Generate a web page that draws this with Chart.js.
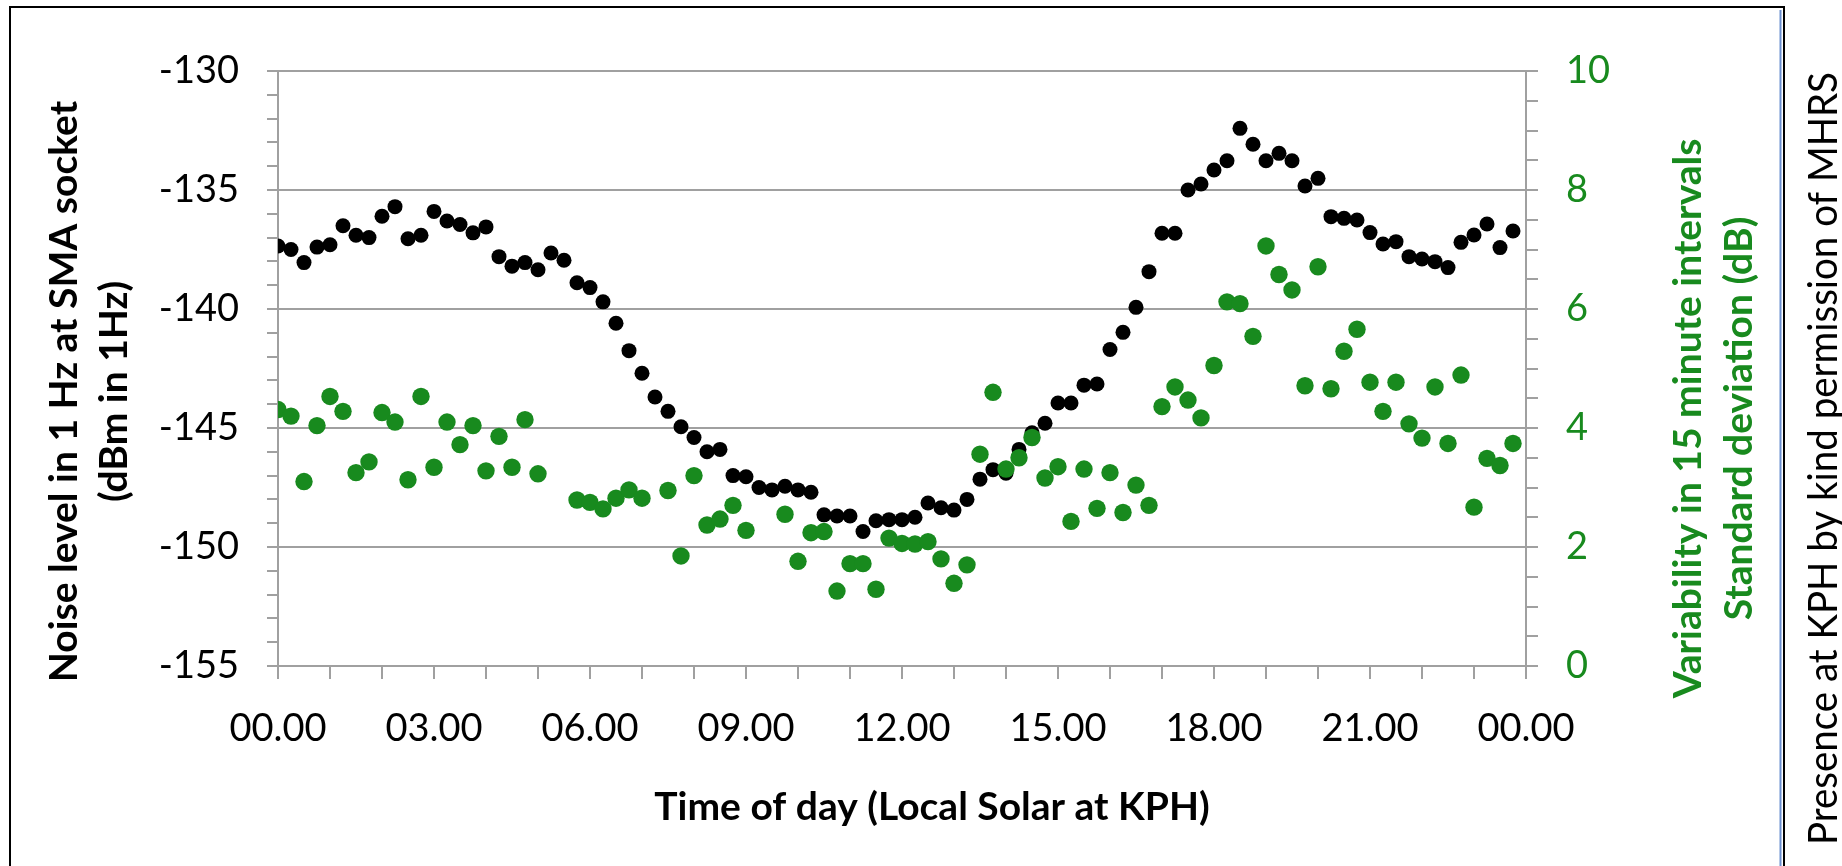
<!DOCTYPE html>
<html>
<head>
<meta charset="UTF-8">
<title>Noise level at KPH</title>
<script src="https://cdn.jsdelivr.net/npm/chart.js"></script>
<style>
  body { margin: 0; background: #fff; }
  #wrap { width: 1842px; height: 866px; }
</style>
</head>
<body>
<div id="wrap"><canvas id="myChart" width="1842" height="866"></canvas></div>

<script>
// time of day in hours, one reading every 15 minutes
const times = [
  0, 0.25, 0.5, 0.75, 1, 1.25, 1.5, 1.75,
  2, 2.25, 2.5, 2.75, 3, 3.25, 3.5, 3.75,
  4, 4.25, 4.5, 4.75, 5, 5.25, 5.5, 5.75,
  6, 6.25, 6.5, 6.75, 7, 7.25, 7.5, 7.75,
  8, 8.25, 8.5, 8.75, 9, 9.25, 9.5, 9.75,
  10, 10.25, 10.5, 10.75, 11, 11.25, 11.5, 11.75,
  12, 12.25, 12.5, 12.75, 13, 13.25, 13.5, 13.75,
  14, 14.25, 14.5, 14.75, 15, 15.25, 15.5, 15.75,
  16, 16.25, 16.5, 16.75, 17, 17.25, 17.5, 17.75,
  18, 18.25, 18.5, 18.75, 19, 19.25, 19.5, 19.75,
  20, 20.25, 20.5, 20.75, 21, 21.25, 21.5, 21.75,
  22, 22.25, 22.5, 22.75, 23, 23.25, 23.5, 23.75
];

// noise level in 1 Hz at SMA socket (dBm)
const noiseLevel = [
  -137.35, -137.5, -138.05, -137.4, -137.3, -136.5, -136.9, -137.0,
  -136.1, -135.7, -137.05, -136.9, -135.9, -136.3, -136.45, -136.8,
  -136.55, -137.8, -138.2, -138.05, -138.35, -137.65, -137.95, -138.9,
  -139.1, -139.7, -140.6, -141.75, -142.7, -143.7, -144.3, -144.95,
  -145.4, -146.0, -145.9, -147.0, -147.05, -147.5, -147.6, -147.45,
  -147.6, -147.7, -148.65, -148.7, -148.7, -149.35, -148.9, -148.85,
  -148.85, -148.75, -148.15, -148.35, -148.45, -148.0, -147.15, -146.75,
  -146.9, -145.9, -145.2, -144.8, -143.95, -143.95, -143.2, -143.15,
  -141.7, -140.98, -139.93, -138.43, -136.82, -136.82, -135.0, -134.75,
  -134.16, -133.77, -132.41, -133.08, -133.77, -133.46, -133.77, -134.83,
  -134.51, -136.12, -136.19, -136.26, -136.79, -137.27, -137.17, -137.8,
  -137.9, -138.01, -138.26, -137.2, -136.89, -136.43, -137.42, -136.72
];

// standard deviation over 15 minute intervals (dB), null where no point
const stdDev = [
  4.31, 4.2, 3.1, 4.04, 4.53, 4.28, 3.25, 3.43,
  4.26, 4.1, 3.13, 4.53, 3.34, 4.1, 3.72, 4.04,
  3.28, 3.86, 3.34, 4.14, 3.23, null, null, 2.79,
  2.75, 2.64, 2.82, 2.96, 2.82, null, 2.95, 1.85,
  3.2, 2.37, 2.47, 2.7, 2.28, null, null, 2.55,
  1.76, 2.24, 2.26, 1.26, 1.72, 1.72, 1.29, 2.15,
  2.06, 2.05, 2.09, 1.8, 1.39, 1.7, 3.56, 4.6,
  3.31, 3.5, 3.84, 3.16, 3.35, 2.43, 3.31, 2.65,
  3.25, 2.58, 3.04, 2.7, 4.36, 4.69, 4.47, 4.17,
  5.05, 6.12, 6.09, 5.54, 7.06, 6.58, 6.32, 4.71,
  6.71, 4.66, 5.29, 5.66, 4.77, 4.28, 4.77, 4.07,
  3.83, 4.69, 3.74, 4.89, 2.67, 3.49, 3.37, 3.74
];

const xTickLabels = ['00.00', '03.00', '06.00', '09.00', '12.00', '15.00', '18.00', '21.00', '00.00'];

const GRID = '#a0a0a0';
const GREEN = '#188a1e';
const FONT = 'Lato';

function toPoints(ys) {
  const pts = [];
  for (let i = 0; i < times.length; i++) {
    if (ys[i] !== null) pts.push({ x: times[i], y: ys[i] });
  }
  return pts;
}

// draws rotated (bottom-to-top) lines of text, squeezed to maxW if needed
function upText(ctx, lines, baselines, widths, cy, font, color) {
  ctx.save();
  ctx.font = font;
  ctx.fillStyle = color;
  ctx.textAlign = 'center';
  ctx.textBaseline = 'alphabetic';
  for (let i = 0; i < lines.length; i++) {
    ctx.save();
    ctx.translate(baselines[i], cy);
    ctx.rotate(-Math.PI / 2);
    ctx.fillText(lines[i], 0, 0, widths[i]);
    ctx.restore();
  }
  ctx.restore();
}

const decorations = {
  id: 'decorations',
  beforeDraw(chart) {
    const ctx = chart.ctx;
    ctx.save();
    ctx.fillStyle = '#fff';
    ctx.fillRect(0, 0, chart.width, chart.height);
    ctx.restore();
  },
  afterDraw(chart) {
    const ctx = chart.ctx;
    const a = chart.chartArea;
    const mid = (a.top + a.bottom) / 2;

    // outer frame
    ctx.save();
    ctx.strokeStyle = '#000';
    ctx.lineWidth = 2;
    ctx.beginPath();
    ctx.moveTo(10, chart.height);
    ctx.lineTo(10, 7);
    ctx.lineTo(1784, 7);
    ctx.lineTo(1784, chart.height);
    ctx.stroke();
    ctx.strokeStyle = '#6b8fd0';
    ctx.beginPath();
    ctx.moveTo(1780.5, 10);
    ctx.lineTo(1780.5, chart.height);
    ctx.stroke();
    ctx.restore();

    upText(ctx, ['Noise level in 1 Hz at SMA socket', '(dBm in 1Hz)'],
      [77, 127], [591, 232], mid + 23, 'bold 39px ' + FONT, '#000');
    upText(ctx, ['Variability in 15 minute intervals', 'Standard deviation (dB)'],
      [1701, 1752], [583, 423], mid + 50, 'bold 39px ' + FONT, GREEN);
    upText(ctx, ['Presence at KPH by kind permission of MHRS'],
      [1837], [773], mid + 90, '41px ' + FONT, '#000');

    ctx.save();
    ctx.font = 'bold 39px ' + FONT;
    ctx.fillStyle = '#000';
    ctx.textAlign = 'center';
    ctx.textBaseline = 'alphabetic';
    ctx.fillText('Time of day (Local Solar at KPH)', 932, 820, 570);
    ctx.restore();
  }
};

new Chart(document.getElementById('myChart'), {
  type: 'scatter',
  data: {
    datasets: [{
      label: 'Noise level',
      data: toPoints(noiseLevel),
      yAxisID: 'y',
      backgroundColor: '#000',
      borderWidth: 0,
      pointRadius: 7.5,
      order: 2
    }, {
      label: 'Standard deviation',
      data: toPoints(stdDev),
      yAxisID: 'y1',
      backgroundColor: GREEN,
      borderWidth: 0,
      pointRadius: 8.7,
      order: 1
    }]
  },
  options: {
    responsive: false,
    animation: false,
    devicePixelRatio: 1,
    layout: { padding: { top: 71, left: 0, right: 0, bottom: 0 } },
    plugins: {
      legend: { display: false },
      tooltip: { enabled: false }
    },
    scales: {
      x: {
        type: 'linear',
        min: 0,
        max: 24,
        afterFit(s) { s.height = 200; },
        grid: { drawOnChartArea: false, color: GRID, lineWidth: 2, tickLength: 13 },
        border: { color: GRID, width: 2 },
        ticks: {
          stepSize: 1,
          autoSkip: false,
          maxRotation: 0,
          padding: 27,
          color: '#000',
          font: { family: FONT, size: 38 },
          callback: v => (v % 3 === 0 ? xTickLabels[v / 3] : '')
        }
      },
      y: {
        position: 'left',
        min: -155,
        max: -130,
        afterFit(s) { s.width = 278; },
        grid: {
          color: c => (c.tick && c.tick.value % 5 === 0 ? GRID : 'rgba(0,0,0,0)'),
          tickColor: GRID,
          lineWidth: 2,
          tickLength: 11
        },
        border: { color: GRID, width: 2 },
        ticks: {
          stepSize: 1,
          autoSkip: false,
          padding: 28,
          color: '#000',
          font: { family: FONT, size: 38 },
          callback: v => (v % 5 === 0 ? String(v) : '')
        }
      },
      y1: {
        position: 'right',
        min: 0,
        max: 10,
        afterFit(s) { s.width = 316; },
        grid: { drawOnChartArea: false, color: GRID, lineWidth: 2, tickLength: 12 },
        border: { color: GRID, width: 2 },
        ticks: {
          stepSize: 0.5,
          autoSkip: false,
          padding: 28,
          color: GREEN,
          font: { family: FONT, size: 38 },
          callback: v => (v % 2 === 0 ? String(v) : '')
        }
      }
    }
  },
  plugins: [decorations]
});
</script>
</body>
</html>
